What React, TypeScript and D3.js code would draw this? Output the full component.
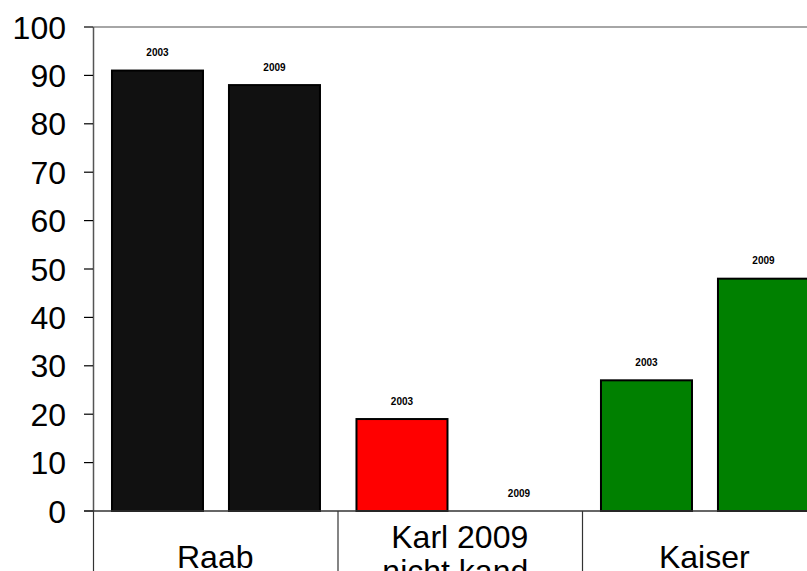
import React from "react";
import * as d3 from "d3";

const categories = ["Raab", "Karl 2009\nnicht kand.", "Kaiser"];
const years = ["2003", "2009"];
const values2003 = [91, 19, 27];
const values2009 = [88, 0, 48];
const barColors = ["#111111", "#ff0000", "#008000"];
const yTicks = [0, 10, 20, 30, 40, 50, 60, 70, 80, 90, 100];

export default function App() {
  const W = 807, H = 571;
  const left = 93, right = 826.5, top = 27, bottom = 511;
  const x = d3.scaleBand<number>().domain(categories.map((_, i) => i)).range([left, right]).padding(0);
  const xi = d3.scaleBand<string>().domain(years).range([0, x.bandwidth()]).paddingInner(0.222).paddingOuter(0.156).align(0.52);
  const y = d3.scaleLinear().domain([0, 100]).range([bottom, top]);
  const font = "Arial, 'Liberation Sans', sans-serif";

  const bars: any[] = [];
  categories.forEach((c, i) => {
    [values2003[i], values2009[i]].forEach((v, j) => {
      bars.push({ i, j, v, year: years[j] });
    });
  });

  return (
    <svg width={W} height={H} style={{ position: "absolute", left: 0, top: 0, background: "#fff" }} fontFamily={font}>
      <rect x={0} y={0} width={W} height={H} fill="#fff" />
      {/* top border */}
      <line x1={left} x2={W} y1={top} y2={top} stroke="#888" strokeWidth={1.5} />
      {/* bars */}
      {bars.map((b) => {
        const bx = (x(b.i) as number) + (xi(b.year) as number);
        const bw = xi.bandwidth();
        return (
          <g key={`${b.i}-${b.j}`}>
            {b.v > 0 && (
              <rect x={bx} y={y(b.v)} width={bw} height={bottom - y(b.v)} fill={barColors[b.i]} stroke="#000" strokeWidth={2} />
            )}
            <text x={bx + bw / 2} y={y(b.v) - 14.5} textAnchor="middle" fontSize={10} fontWeight="bold" fill="#000">
              {b.year}
            </text>
          </g>
        );
      })}
      {/* y axis */}
      <line x1={left + 0.5} x2={left + 0.5} y1={top} y2={bottom} stroke="#555" strokeWidth={1.5} />
      {yTicks.map((t) => (
        <g key={t}>
          <line x1={84} x2={left} y1={y(t)} y2={y(t)} stroke="#000" strokeWidth={1.2} />
          <text x={66} y={y(t)} dy="0.36em" textAnchor="end" fontSize={32} fill="#000">
            {t}
          </text>
        </g>
      ))}
      {/* x axis baseline */}
      <line x1={84} x2={W} y1={bottom} y2={bottom} stroke="#333" strokeWidth={1.5} />
      {/* category separators */}
      {categories.map((_, i) => (
        <line key={i} x1={(x(i) as number) + 0.5} x2={(x(i) as number) + 0.5} y1={bottom} y2={H} stroke="#333" strokeWidth={1.2} />
      ))}
      {/* category labels */}
      {categories.map((c, i) => {
        const lines = c.split("\n");
        const cx = (x(i) as number) + x.bandwidth() / 2;
        const baseY = lines.length === 1 ? 568 : 548;
        return (
          <text key={i} x={cx} y={baseY} textAnchor="middle" fontSize={32} fill="#000">
            {lines.map((l, k) => (
              <tspan key={k} x={cx} y={baseY + k * 34}>
                {l}
              </tspan>
            ))}
          </text>
        );
      })}
    </svg>
  );
}
